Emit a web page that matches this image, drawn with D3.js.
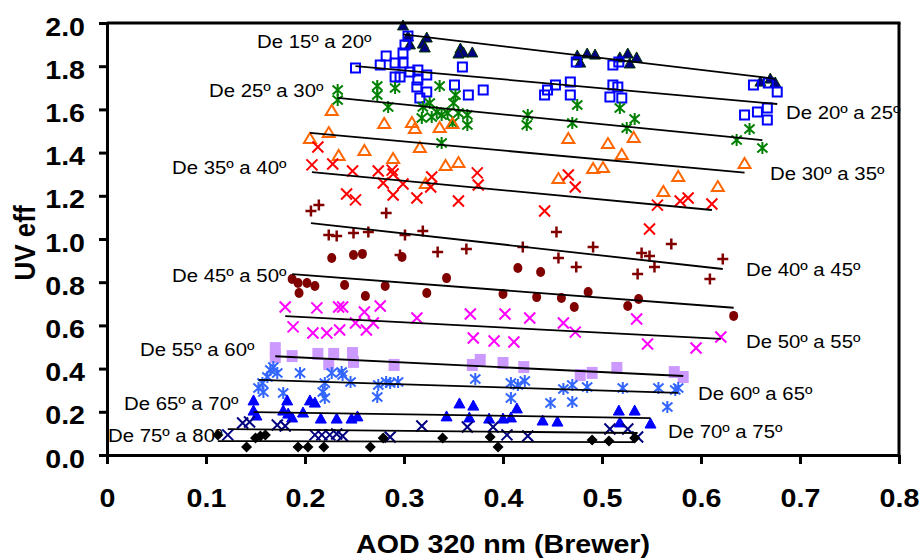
<!DOCTYPE html>
<html>
<head>
<meta charset="utf-8">
<script src="https://cdn.jsdelivr.net/npm/d3@7/dist/d3.min.js"></script>
<style>
  html, body { margin: 0; padding: 0; background: #fff; }
  svg { display: block; font-family: "Liberation Sans", Arial, Helvetica, sans-serif; }
</style>
</head>
<body>
<svg id="chart" width="920" height="560"></svg>
<script>
// Solar zenith angle bands
const bands = [
  "De 15º a 20º", "De 20º a 25º", "De 25º a 30º", "De 30º a 35º", "De 35º a 40º",
  "De 40º a 45º", "De 45º a 50º", "De 50º a 55º", "De 55º a 60º", "De 60º a 65º",
  "De 65º a 70º", "De 70º a 75º", "De 75º a 80º"
];

// [AOD 320 nm, UV eff] observations for each band
const s15_20 = [[0.299,1.991],[0.304,1.940],[0.306,1.903],[0.323,1.935],[0.319,1.907],[0.321,1.889],
  [0.357,1.884],[0.360,1.866],[0.369,1.866],[0.355,1.861],[0.475,1.852],[0.485,1.861],[0.493,1.856],
  [0.478,1.819],[0.518,1.843],[0.526,1.861],[0.535,1.843],[0.528,1.815],[0.660,1.731],[0.670,1.745],[0.675,1.727]];
const s20_25 = [[0.251,1.792],[0.276,1.806],[0.282,1.847],[0.291,1.815],[0.299,1.815],[0.299,1.861],
  [0.301,1.898],[0.304,1.940],[0.291,1.750],[0.296,1.750],[0.306,1.773],[0.314,1.782],[0.314,1.736],
  [0.313,1.704],[0.323,1.759],[0.323,1.681],[0.316,1.653],[0.351,1.713],[0.359,1.796],[0.365,1.667],
  [0.380,1.690],[0.442,1.667],[0.445,1.690],[0.453,1.713],[0.468,1.727],[0.468,1.667],[0.474,1.819],
  [0.511,1.806],[0.517,1.819],[0.511,1.713],[0.516,1.704],[0.508,1.657],[0.520,1.653],[0.653,1.713],
  [0.644,1.574],[0.657,1.588],[0.667,1.606],[0.667,1.551],[0.677,1.681],[0.668,1.722]];
const s25_30 = [[0.233,1.690],[0.233,1.644],[0.273,1.708],[0.273,1.667],[0.291,1.699],[0.284,1.611],
  [0.336,1.708],[0.352,1.667],[0.350,1.630],[0.326,1.630],[0.319,1.611],[0.333,1.588],[0.318,1.560],
  [0.328,1.565],[0.338,1.574],[0.344,1.583],[0.355,1.583],[0.364,1.574],[0.364,1.528],[0.349,1.537],
  [0.338,1.444],[0.425,1.574],[0.424,1.528],[0.470,1.537],[0.475,1.620],[0.518,1.606],[0.533,1.556],
  [0.525,1.514],[0.636,1.458],[0.649,1.509],[0.662,1.421]];
const s30_35 = [[0.205,1.468],[0.227,1.597],[0.224,1.495],[0.234,1.389],[0.260,1.412],[0.280,1.537],
  [0.289,1.375],[0.308,1.542],[0.311,1.514],[0.316,1.426],[0.336,1.519],[0.349,1.537],[0.342,1.343],
  [0.355,1.356],[0.322,1.259],[0.466,1.468],[0.456,1.282],[0.491,1.329],[0.501,1.333],[0.506,1.444],
  [0.520,1.394],[0.532,1.472],[0.577,1.292],[0.562,1.222],[0.617,1.245],[0.644,1.352]];
const s35_40 = [[0.207,1.343],[0.213,1.426],[0.228,1.347],[0.248,1.315],[0.274,1.315],[0.288,1.319],
  [0.289,1.301],[0.279,1.259],[0.299,1.255],[0.328,1.287],[0.327,1.241],[0.374,1.306],[0.375,1.250],
  [0.466,1.296],[0.473,1.241],[0.242,1.208],[0.251,1.181],[0.289,1.204],[0.313,1.190],[0.355,1.176],
  [0.442,1.130],[0.556,1.157],[0.579,1.176],[0.587,1.190],[0.611,1.162],[0.548,1.046]];
const s40_45 = [[0.206,1.130],[0.214,1.157],[0.282,1.120],[0.224,1.019],[0.232,1.014],[0.249,1.028],
  [0.264,1.032],[0.301,1.019],[0.319,1.037],[0.296,0.926],[0.334,0.940],[0.363,0.954],[0.420,0.963],
  [0.454,1.032],[0.456,0.912],[0.474,0.870],[0.491,0.963],[0.540,0.935],[0.548,0.921],[0.570,0.977],
  [0.553,0.870],[0.536,0.838],[0.622,0.907],[0.609,0.815]];
const s45_50 = [[0.187,0.815],[0.193,0.796],[0.202,0.796],[0.210,0.782],[0.194,0.750],[0.227,0.912],
  [0.249,0.926],[0.258,0.931],[0.240,0.787],[0.281,0.782],[0.261,0.736],[0.298,0.917],[0.343,0.819],
  [0.323,0.750],[0.415,0.866],[0.438,0.847],[0.400,0.745],[0.434,0.731],[0.459,0.727],[0.472,0.685],
  [0.486,0.755],[0.537,0.722],[0.526,0.690],[0.633,0.644]];
const s50_55 = [[0.180,0.685],[0.188,0.593],[0.208,0.565],[0.212,0.681],[0.234,0.685],[0.238,0.685],
  [0.260,0.662],[0.276,0.690],[0.222,0.565],[0.235,0.579],[0.251,0.611],[0.262,0.579],[0.269,0.611],
  [0.313,0.634],[0.367,0.653],[0.402,0.653],[0.427,0.634],[0.370,0.542],[0.391,0.528],[0.411,0.523],
  [0.461,0.611],[0.473,0.569],[0.535,0.630],[0.546,0.514],[0.595,0.495],[0.620,0.546]];
const s55_60 = [[0.170,0.495],[0.170,0.454],[0.187,0.458],[0.213,0.468],[0.229,0.468],[0.224,0.421],
  [0.248,0.472],[0.249,0.431],[0.290,0.417],[0.369,0.417],[0.377,0.440],[0.400,0.426],[0.421,0.407],
  [0.478,0.370],[0.490,0.380],[0.515,0.403],[0.573,0.384],[0.582,0.361]];
const s60_65 = [[0.153,0.310],[0.157,0.333],[0.162,0.361],[0.165,0.394],[0.168,0.407],[0.172,0.380],
  [0.158,0.292],[0.178,0.287],[0.195,0.380],[0.218,0.292],[0.220,0.333],[0.220,0.264],[0.227,0.380],
  [0.237,0.384],[0.238,0.370],[0.246,0.338],[0.273,0.269],[0.274,0.324],[0.282,0.338],[0.286,0.333],
  [0.294,0.338],[0.372,0.352],[0.408,0.333],[0.408,0.264],[0.415,0.324],[0.422,0.343],[0.448,0.241],
  [0.461,0.306],[0.470,0.324],[0.470,0.245],[0.485,0.315],[0.521,0.310],[0.557,0.310],[0.574,0.301],
  [0.577,0.310],[0.566,0.222]];
const s65_70 = [[0.148,0.255],[0.148,0.208],[0.151,0.185],[0.182,0.255],[0.178,0.208],[0.183,0.194],
  [0.187,0.176],[0.198,0.199],[0.205,0.255],[0.210,0.245],[0.216,0.171],[0.232,0.171],[0.247,0.171],
  [0.253,0.181],[0.343,0.181],[0.356,0.241],[0.370,0.231],[0.366,0.176],[0.386,0.171],[0.400,0.171],
  [0.408,0.176],[0.414,0.218],[0.440,0.162],[0.455,0.157],[0.517,0.208],[0.533,0.208],[0.518,0.153],[0.549,0.148]];
const s70_75 = [[0.122,0.093],[0.137,0.148],[0.144,0.153],[0.172,0.139],[0.180,0.134],[0.210,0.093],
  [0.217,0.093],[0.225,0.093],[0.232,0.097],[0.238,0.088],[0.286,0.083],[0.318,0.134],[0.364,0.130],
  [0.390,0.130],[0.404,0.093],[0.425,0.088],[0.508,0.120],[0.526,0.120],[0.536,0.083]];
const s75_80 = [[0.112,0.093],[0.141,0.037],[0.150,0.079],[0.155,0.088],[0.160,0.093],[0.193,0.037],
  [0.203,0.037],[0.219,0.037],[0.266,0.037],[0.279,0.079],[0.339,0.079],[0.387,0.083],[0.395,0.037],
  [0.490,0.069],[0.507,0.065],[0.533,0.079]];

const seriesData = [s15_20, s20_25, s25_30, s30_35, s35_40, s40_45, s45_50,
                    s50_55, s55_60, s60_65, s65_70, s70_75, s75_80];

// Linear trend for each band: UV eff = intercept + slope * AOD
const trendSlope     = [-0.547, -0.412, -0.455, -0.421, -0.435, -0.511, -0.348, -0.240, -0.222, -0.141, -0.069, -0.043, -0.012];
const trendIntercept = [ 2.111,  1.904,  1.759,  1.578,  1.400,  1.179,  0.902,  0.686,  0.495,  0.369,  0.209,  0.125,  0.066];

const xTicks = [0, 0.1, 0.2, 0.3, 0.4, 0.5, 0.6, 0.7, 0.8];
const yTicks = [0, 0.2, 0.4, 0.6, 0.8, 1.0, 1.2, 1.4, 1.6, 1.8, 2.0];

// ---- marker styles per band ----
const styles = [
  { shape: "triangle", fill: "#000080", stroke: "#003300", sw: 1,   w: 11, h: 10 },
  { shape: "square",   fill: "none",    stroke: "#0000FF", sw: 2,   w: 9 },
  { shape: "asterisk", fill: "none",    stroke: "#008000", sw: 2,   w: 12 },
  { shape: "triangle", fill: "none",    stroke: "#FF6600", sw: 2,   w: 12, h: 10 },
  { shape: "cross",    fill: "none",    stroke: "#FF0000", sw: 2,   w: 11 },
  { shape: "plus",     fill: "none",    stroke: "#800000", sw: 2.5, w: 11 },
  { shape: "ellipse",  fill: "#800000", stroke: "none",    sw: 0,   w: 9, h: 10 },
  { shape: "cross",    fill: "none",    stroke: "#FF00FF", sw: 2,   w: 11 },
  { shape: "rect",     fill: "#CC99FF", stroke: "none",    sw: 0,   w: 11, h: 12 },
  { shape: "asterisk", fill: "none",    stroke: "#3366FF", sw: 2,   w: 12 },
  { shape: "triangle", fill: "#0000FF", stroke: "#0000FF", sw: 1,   w: 11, h: 10 },
  { shape: "cross",    fill: "none",    stroke: "#000080", sw: 2,   w: 11 },
  { shape: "diamond",  fill: "#000000", stroke: "none",    sw: 0,   w: 11 }
];

// band label placement: [left edge, baseline] in px
const labelLayout = [
  [257, 48], [786, 119], [209, 97], [770, 180], [172, 174], [746, 276], [172, 282],
  [746, 348], [140, 356], [698, 400], [124, 410], [668, 438], [108, 442]
];

// all lettering is set slightly wide
const TEXT_WIDEN = 1.1;

const svg = d3.select("#chart");
const x = d3.scaleLinear().domain([0, 0.8]).range([107, 899]);
const y = d3.scaleLinear().domain([0, 2]).range([455, 23]);

function markerPath(st) {
  const w = st.w, h = st.h || st.w, a = w / 2, b = h / 2;
  switch (st.shape) {
    case "triangle": return `M0,${-b}L${a},${b}L${-a},${b}Z`;
    case "square":   return `M${-a},${-a}H${a}V${a}H${-a}Z`;
    case "rect":     return `M${-a},${-b}H${a}V${b}H${-a}Z`;
    case "diamond":  return `M0,${-a}L${a},0L0,${a}L${-a},0Z`;
    case "cross":    return `M${-a},${-a}L${a},${a}M${-a},${a}L${a},${-a}`;
    case "plus":     return `M${-a},0H${a}M0,${-a}V${a}`;
    case "asterisk": return `M${-a*0.85},${-a*0.75}L${a*0.85},${a*0.75}M${-a*0.85},${a*0.75}L${a*0.85},${-a*0.75}M0,${-a}V${a}`;
  }
  return "";
}

// ---- band labels (beneath the points) ----
svg.append("g").selectAll("text")
  .data(bands)
  .join("text")
  .attr("transform", (d, i) => `translate(${labelLayout[i][0]},${labelLayout[i][1]}) scale(${TEXT_WIDEN},1)`)
  .attr("font-size", 18.5)
  .attr("fill", "#000")
  .text(d => d);

// ---- points ----
seriesData.forEach((pts, i) => {
  const st = styles[i];
  const g = svg.append("g");
  if (st.shape === "ellipse") {
    g.selectAll("ellipse").data(pts).join("ellipse")
      .attr("cx", d => x(d[0])).attr("cy", d => y(d[1]))
      .attr("rx", st.w / 2).attr("ry", st.h / 2)
      .attr("fill", st.fill);
  } else {
    g.selectAll("path").data(pts).join("path")
      .attr("transform", d => `translate(${x(d[0])},${y(d[1])})`)
      .attr("d", markerPath(st))
      .attr("fill", st.fill)
      .attr("stroke", st.stroke)
      .attr("stroke-width", st.sw)
      .attr("stroke-linejoin", "miter");
  }
});

// ---- trend lines ----
seriesData.forEach((pts, i) => {
  const [x0, x1] = d3.extent(pts, d => d[0]);
  svg.append("line")
    .attr("x1", x(x0)).attr("y1", y(trendIntercept[i] + trendSlope[i] * x0))
    .attr("x2", x(x1)).attr("y2", y(trendIntercept[i] + trendSlope[i] * x1))
    .attr("stroke", "#000").attr("stroke-width", 1.8);
});

// ---- axes and frame ----
const fmt = d3.format(".1f");
const gx = svg.append("g").attr("transform", `translate(0,${y(0)})`)
  .call(d3.axisBottom(x).tickValues(xTicks).tickSize(9).tickSizeOuter(0)
        .tickFormat(d => d === 0 ? "0" : fmt(d)));
const gy = svg.append("g").attr("transform", `translate(${x(0)},0)`)
  .call(d3.axisLeft(y).tickValues(yTicks).tickSize(8).tickSizeOuter(0).tickFormat(fmt));

[gx, gy].forEach(g => {
  g.attr("font-family", null).attr("font-size", null);
  g.select(".domain").attr("stroke", "#000").attr("stroke-width", 3);
  g.selectAll(".tick line").attr("stroke", "#000").attr("stroke-width", 3);
  g.selectAll(".tick text").attr("fill", "#000").attr("font-size", 26).attr("font-weight", "bold");
});
gx.selectAll(".tick text")
  .attr("x", null).attr("y", null).attr("dy", null)
  .attr("transform", `translate(0,52) scale(${TEXT_WIDEN},1)`);
gy.selectAll(".tick text")
  .attr("x", null).attr("y", null).attr("dy", null)
  .attr("transform", `translate(-22,12) scale(${TEXT_WIDEN},1)`);

svg.append("line")
  .attr("x1", x(0)).attr("x2", x(0.8) + 1.5).attr("y1", y(2)).attr("y2", y(2))
  .attr("stroke", "#000").attr("stroke-width", 3);
svg.append("line")
  .attr("x1", x(0.8)).attr("x2", x(0.8)).attr("y1", y(2)).attr("y2", y(0))
  .attr("stroke", "#000").attr("stroke-width", 3);

// ---- axis titles ----
svg.append("text")
  .attr("transform", `translate(${(x(0) + x(0.8)) / 2},553) scale(${TEXT_WIDEN},1)`)
  .attr("text-anchor", "middle")
  .attr("font-size", 26).attr("font-weight", "bold")
  .text("AOD 320 nm (Brewer)");
svg.append("text")
  .attr("transform", `translate(35,${(y(0) + y(2)) / 2 + 4}) scale(${TEXT_WIDEN},1) rotate(-90)`)
  .attr("text-anchor", "middle")
  .attr("font-size", 26).attr("font-weight", "bold")
  .text("UV eff");
</script>
</body>
</html>
